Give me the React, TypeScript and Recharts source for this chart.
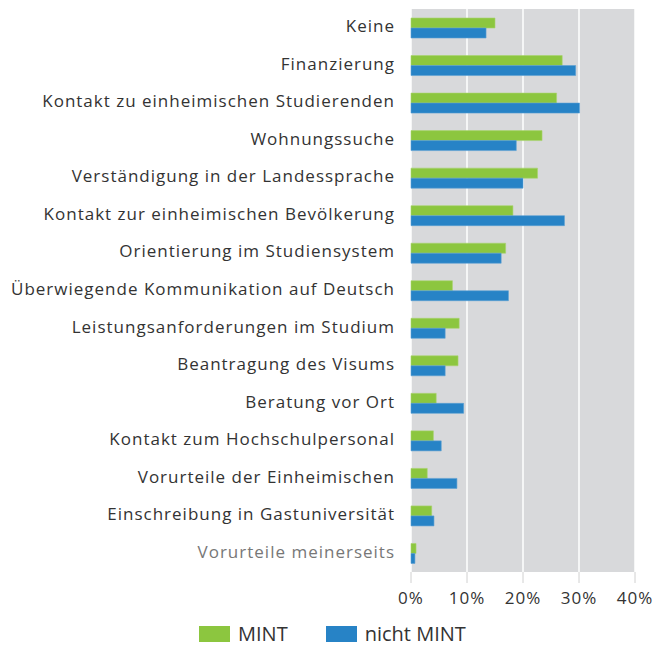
import { BarChart, Bar, XAxis, YAxis, CartesianGrid, Legend } from 'recharts';

const categories = [
    'Keine',
    'Finanzierung',
    'Kontakt zu einheimischen Studierenden',
    'Wohnungssuche',
    'Verständigung in der Landessprache',
    'Kontakt zur einheimischen Bevölkerung',
    'Orientierung im Studiensystem',
    'Überwiegende Kommunikation auf Deutsch',
    'Leistungsanforderungen im Studium',
    'Beantragung des Visums',
    'Beratung vor Ort',
    'Kontakt zum Hochschulpersonal',
    'Vorurteile der Einheimischen',
    'Einschreibung in Gastuniversität',
    'Vorurteile meinerseits',
];

const mint = [15.0, 27.0, 26.0, 23.4, 22.6, 18.2, 16.9, 7.4, 8.6, 8.4, 4.5, 4.0, 2.9, 3.7, 0.9];
const nichtMint = [13.4, 29.4, 30.1, 18.8, 20.0, 27.4, 16.1, 17.4, 6.1, 6.1, 9.4, 5.4, 8.2, 4.1, 0.7];

const xTicks = [0, 10, 20, 30, 40];

const GREEN = '#8cc63f';
const BLUE = '#2783c6';
const FONT = '"Open Sans", sans-serif';

const data = categories.map((name, i) => ({
    name,
    mint: mint[i],
    nichtMint: nichtMint[i],
}));

const CategoryTick = ({ x, y, payload }: any) => {
    const muted = payload.value === 'Vorurteile meinerseits';
    return (
        <text
            x={x}
            y={y}
            dy={4.5}
            textAnchor="end"
            fontFamily={FONT}
            fontSize={17}
            letterSpacing={1}
            fill={muted ? '#777' : '#333'}
        >
            {payload.value}
        </text>
    );
};

const LegendContent = () => (
    <div style={{ display: 'flex', justifyContent: 'flex-start', paddingLeft: 199, paddingTop: 10, fontFamily: FONT, fontSize: 20, color: '#333' }}>
        <div style={{ display: 'flex', alignItems: 'center', marginRight: 38 }}>
            <span style={{ width: 31, height: 16, background: GREEN, display: 'inline-block', marginRight: 8 }} />
            MINT
        </div>
        <div style={{ display: 'flex', alignItems: 'center' }}>
            <span style={{ width: 31, height: 16, background: BLUE, display: 'inline-block', marginRight: 8 }} />
            nicht MINT
        </div>
    </div>
);

export default function App() {
    return (
        <div style={{ position: 'absolute', left: 0, top: 0, width: 656, height: 647, background: '#fff' }}>
            <BarChart
                width={656}
                height={647}
                data={data}
                layout="vertical"
                margin={{ top: 9, right: 21, left: 0, bottom: 0 }}
                barGap={0}
            >
                <CartesianGrid horizontal={false} stroke="#fff" strokeWidth={1.5} fill="#d8d9db" />
                <XAxis
                    type="number"
                    domain={[0, 40]}
                    ticks={xTicks}
                    tickFormatter={(v) => `${v}%`}
                    axisLine={false}
                    tickLine={{ stroke: '#d0d0d0' }}
                    tickSize={11}
                    tickMargin={9}
                    tick={{ fill: '#333', fontSize: 17, fontFamily: FONT, letterSpacing: 1 }}
                    height={38}
                />
                <YAxis
                    type="category"
                    dataKey="name"
                    width={411}
                    axisLine={false}
                    tickLine={false}
                    tickMargin={10}
                    tick={<CategoryTick />}
                    interval={0}
                />
                <Legend verticalAlign="bottom" height={37} content={<LegendContent />} />
                <Bar dataKey="mint" name="MINT" fill={GREEN} stroke="#a9d46f" strokeWidth={0.6} barSize={10} isAnimationActive={false} />
                <Bar dataKey="nichtMint" name="nicht MINT" fill={BLUE} stroke="#5a9fd3" strokeWidth={0.6} barSize={10} isAnimationActive={false} />
            </BarChart>
        </div>
    );
}
